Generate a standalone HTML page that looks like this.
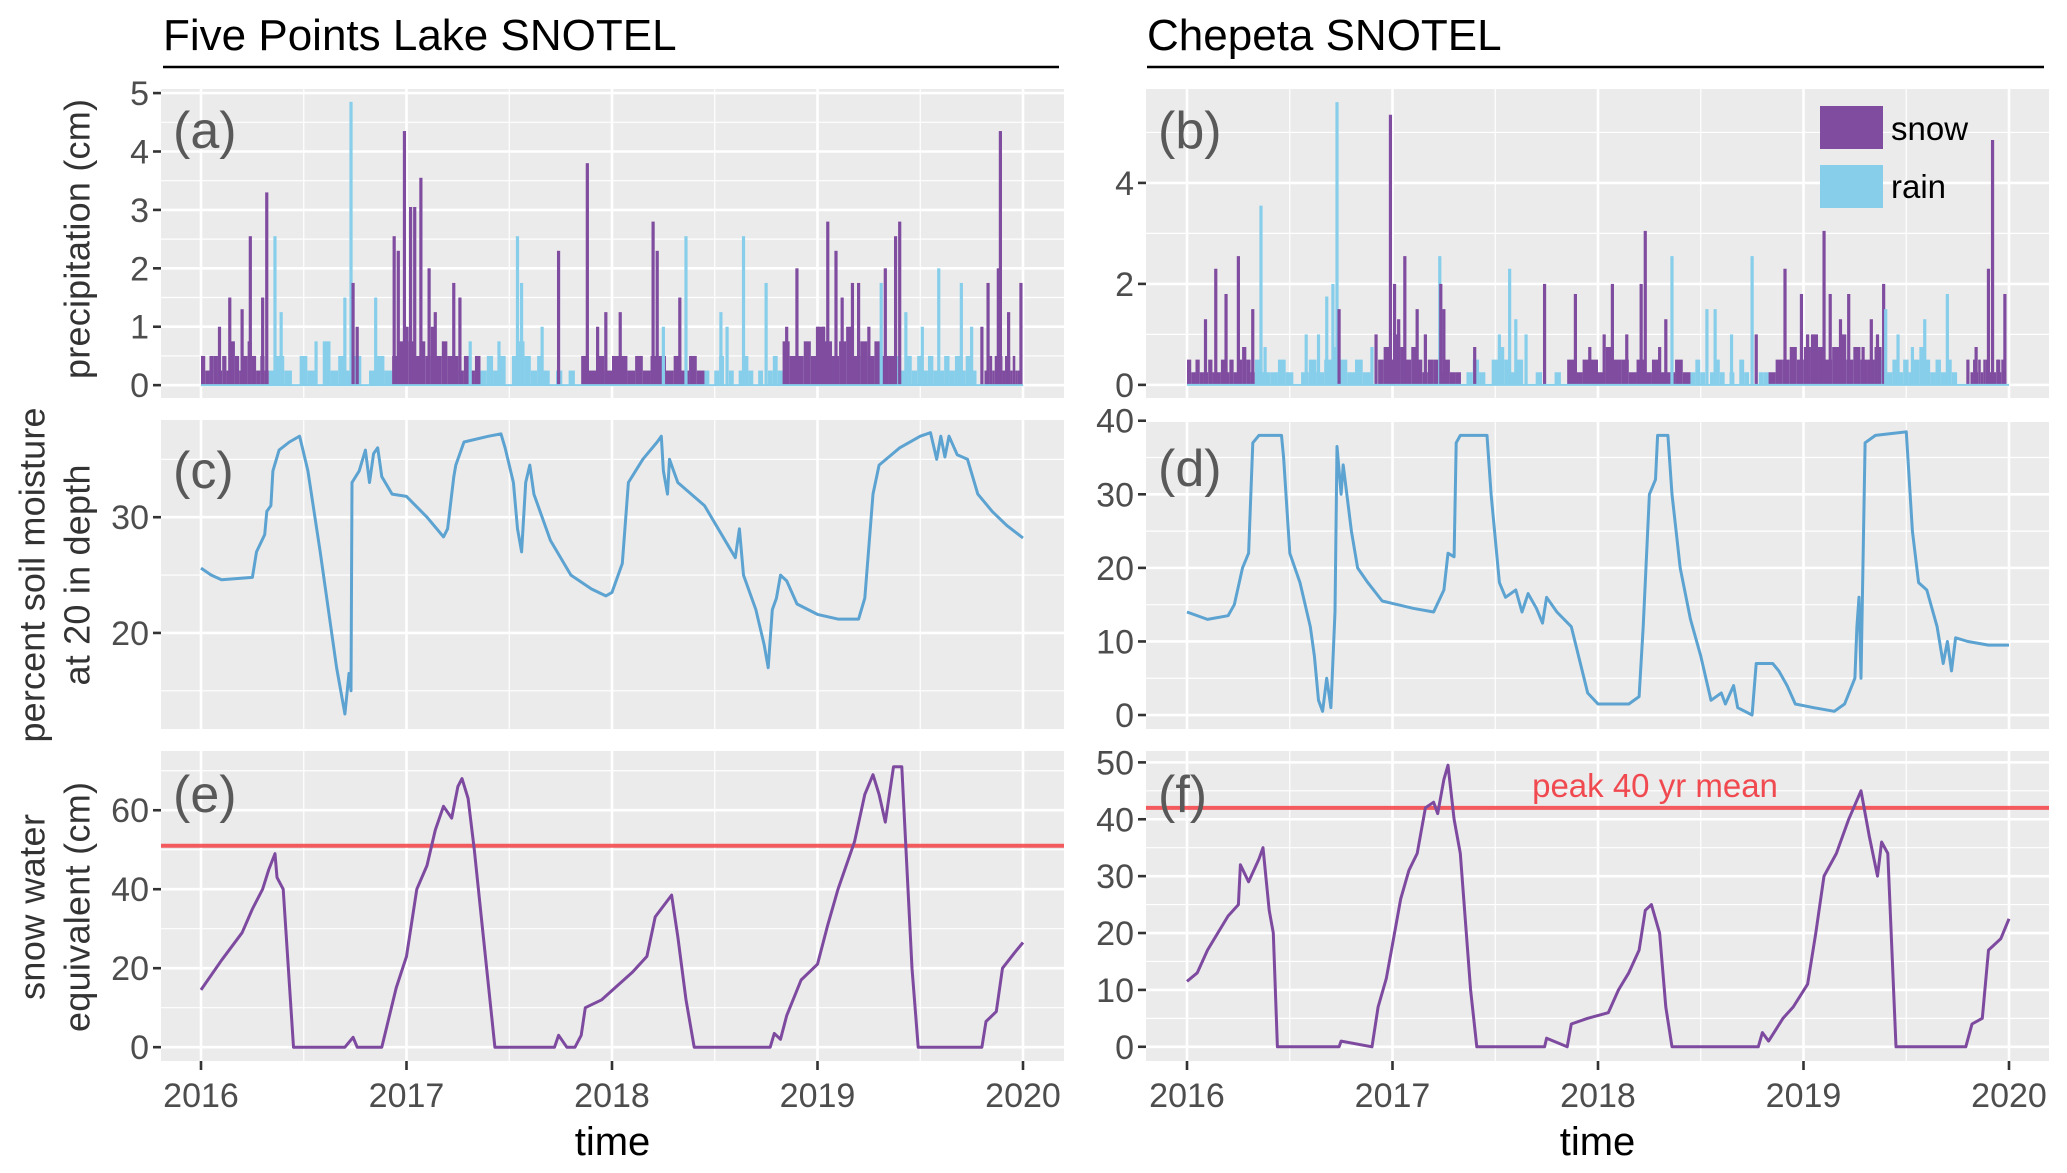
<!DOCTYPE html>
<html><head><meta charset="utf-8">
<style>
html,body{margin:0;padding:0;background:#fff;}
svg{display:block;font-family:"Liberation Sans",Arial,sans-serif;}
</style></head>
<body>
<svg id="chart" width="2067" height="1173" viewBox="0 0 2067 1173" xmlns="http://www.w3.org/2000/svg">
  <text x="163" y="50" font-size="44" fill="#000">Five Points Lake SNOTEL</text>
  <line x1="163" y1="67" x2="1059" y2="67" stroke="#000" stroke-width="2.5"/>
  <text x="1147" y="50" font-size="44" fill="#000">Chepeta SNOTEL</text>
  <line x1="1147" y1="67" x2="2044" y2="67" stroke="#000" stroke-width="2.5"/>
  <g id="root"></g>
</svg>
<script>
// ---------- DATA ----------
const years = [2016, 2017, 2018, 2019, 2020];
const yearLabels = ["2016", "2017", "2018", "2019", "2020"];
const fillStart = [2016.0, 2016.33, 2016.93, 2017.36, 2017.85, 2018.45, 2018.83, 2019.38, 2019.8];
const fillEnd   = [2016.33, 2016.93, 2017.36, 2017.85, 2018.45, 2018.83, 2019.38, 2019.8, 2020.0];
const fillKind  = ["s","r","s","r","s","r","s","r","s"];
const fillA = [
 [0.5,0.25,0.5,0.5,0.25,0.5,0.25,0.75,0.5,0.25,0.5,0.75,0.5,0.25,0.5,0.25],
 [0.25,0.5,0.25,0,0.5,0.25,0,0.75,0.25,0.5,0.25,0.5,0,0.25,0.5,0.25],
 [0.5,0.75,1.0,0.75,0.5,0.75,0.5,1.0,0.5,0.75,0.5,0.5,0.25,0.5,0.25,0.5],
 [0.25,0.5,0.25,0.5,0,0.5,0.75,0.5,0.25,0.5,0.25,0,0.25,0,0.25,0],
 [0.5,0.25,0.5,0.25,0.5,0.5,0.25,0.5,0.25,0.5,0.5,0.25,0.5,0.25,0.5,0.25],
 [0.25,0,0.25,0.5,0,0.25,0,0.25,0.5,0.25,0,0.25,0,0.25,0.5,0.25],
 [0.75,0.5,0.5,0.75,0.5,1.0,0.75,0.5,0.75,1.0,0.5,0.75,0.5,0.75,0.5,0.5],
 [0.5,0.25,0.5,0.25,0.5,0.25,0.5,0.25,0.25,0.5,0.25,0.5,0.25,0.5,0.25,0],
 [0,0.25,0,0.5,0.25,0.5,0.25,0.5,0.25,0.5,0.5,0.25,0.5,0.25,0.25,0]
];
const fillB = [
 [0.5,0.25,0.5,0.25,0.25,0.5,0.25,0.25,0.5,0.25,0.5,0.25,0.5,0.75,0.5,0.25],
 [0.5,0.25,0.25,0.5,0.25,0,0.25,0.5,0.25,0.5,0.75,0.5,0.25,0.5,0.25,0],
 [0.5,0.75,0.5,1.0,0.75,0.5,0.75,0.5,0.25,0.5,0.5,0.25,0.5,0.25,0.25,0],
 [0.25,0.5,0.25,0,0.5,0.75,0.5,0.25,0.5,0,0,0.25,0,0,0.25,0],
 [0.5,0.25,0.5,0.5,0.25,0.75,0.5,0.5,0.25,0.5,0.25,0.5,0.25,0.25,0.5,0.25],
 [0.25,0.5,0.25,0,0.25,0.5,0.25,0,0.25,0,0.5,0.25,0,0,0.25,0.25],
 [0.25,0.5,0.5,0.75,0.5,0.75,1.0,0.75,0.5,0.75,1.0,0.5,0.75,0.5,0.5,0.75],
 [0.5,0.25,0.5,0.25,0.5,0.25,0.5,0.75,0.5,0.25,0.5,0.25,0.5,0.25,0,0],
 [0,0.25,0.5,0.25,0.5,0.25,0.5,0.5,0.25,0.5,0.25,0.5,0.25,0.5,0.25,0]
];
const aT = [2016.09,2016.14,2016.20,2016.24,2016.30,2016.32,2016.36,2016.39,2016.56,2016.70,2016.73,2016.74,2016.76,2016.85,2016.94,2016.96,2016.99,2017.02,2017.04,2017.07,2017.11,2017.14,2017.23,2017.26,2017.31,2017.45,2017.54,2017.56,2017.66,2017.74,2017.88,2017.93,2017.97,2018.04,2018.20,2018.22,2018.25,2018.33,2018.36,2018.53,2018.56,2018.64,2018.75,2018.85,2018.90,2019.0,2019.03,2019.05,2019.09,2019.12,2019.17,2019.20,2019.25,2019.31,2019.33,2019.38,2019.40,2019.43,2019.51,2019.59,2019.70,2019.75,2019.80,2019.83,2019.88,2019.89,2019.93,2019.99];
const aV = [1.0,1.5,1.3,2.55,1.5,3.3,2.55,1.25,0.75,1.5,4.85,1.75,1.0,1.5,2.55,2.3,4.35,3.05,3.05,3.55,2.0,1.25,1.75,1.5,0.75,0.75,2.55,1.75,1.0,2.3,3.8,1.0,1.25,1.25,2.8,2.3,1.0,1.5,2.55,1.25,1.0,2.55,1.75,1.0,2.0,1.0,1.0,2.8,2.3,1.5,1.75,1.75,1.0,1.75,2.0,2.55,2.8,1.25,1.0,2.0,1.75,1.0,1.0,1.75,2.0,4.35,1.25,1.75];
const aK = ["s","s","s","s","s","s","r","r","r","r","r","s","s","r","s","s","s","s","s","s","s","s","s","s","r","r","r","r","r","s","s","s","s","s","s","s","r","s","r","r","r","r","r","s","s","s","s","s","s","s","s","s","s","r","s","s","s","r","r","r","r","r","s","s","s","s","s","s"];
const bT = [2016.09,2016.14,2016.19,2016.25,2016.32,2016.36,2016.38,2016.58,2016.64,2016.68,2016.71,2016.73,2016.74,2016.90,2016.92,2016.99,2017.01,2017.03,2017.06,2017.12,2017.16,2017.23,2017.235,2017.25,2017.40,2017.52,2017.57,2017.60,2017.65,2017.74,2017.89,2017.96,2018.03,2018.07,2018.14,2018.21,2018.23,2018.30,2018.33,2018.36,2018.53,2018.57,2018.65,2018.75,2018.77,2018.91,2018.99,2019.02,2019.10,2019.13,2019.18,2019.22,2019.29,2019.33,2019.36,2019.39,2019.40,2019.46,2019.53,2019.59,2019.70,2019.80,2019.84,2019.90,2019.92,2019.95,2019.98];
const bV = [1.3,2.3,1.8,2.55,1.5,3.55,0.75,1.0,1.0,1.75,2.0,5.6,1.5,0.75,1.0,5.35,2.0,1.3,2.55,1.5,1.0,2.55,2.0,1.5,0.75,1.0,2.3,1.3,1.0,2.0,1.8,0.75,1.0,2.0,1.0,2.0,3.05,0.75,1.3,2.55,1.5,1.5,1.0,2.55,1.0,2.3,1.8,1.0,3.05,1.8,1.3,1.8,0.75,1.3,1.0,2.0,1.5,1.0,0.75,1.3,1.8,0.5,0.75,2.3,4.85,0.5,1.8];
const bK = ["s","s","s","s","s","r","r","r","r","r","r","r","s","r","s","s","s","s","s","s","s","r","s","s","s","r","r","r","r","s","s","s","s","s","s","s","s","s","s","r","r","r","r","r","s","s","s","s","s","s","s","s","s","s","s","s","r","r","r","r","r","s","s","s","s","s","s"];
const cT = [2016.0,2016.05,2016.1,2016.25,2016.27,2016.31,2016.32,2016.34,2016.35,2016.38,2016.43,2016.48,2016.5,2016.52,2016.58,2016.62,2016.66,2016.70,2016.72,2016.73,2016.735,2016.77,2016.8,2016.82,2016.84,2016.86,2016.88,2016.93,2017.0,2017.1,2017.18,2017.2,2017.23,2017.24,2017.28,2017.4,2017.46,2017.48,2017.52,2017.54,2017.56,2017.58,2017.6,2017.62,2017.7,2017.8,2017.9,2017.97,2018.0,2018.05,2018.08,2018.15,2018.22,2018.24,2018.25,2018.27,2018.28,2018.3,2018.32,2018.45,2018.6,2018.62,2018.64,2018.7,2018.74,2018.76,2018.78,2018.8,2018.82,2018.85,2018.9,2019.0,2019.1,2019.2,2019.23,2019.27,2019.3,2019.4,2019.5,2019.55,2019.58,2019.6,2019.62,2019.64,2019.68,2019.73,2019.78,2019.85,2019.92,2020.0];
const cV = [25.6,25.0,24.6,24.8,27,28.5,30.5,31,34,35.8,36.5,37,35.5,34,27,22,17,13,16.5,15,33,34,35.8,33,35.5,36,33.5,32,31.8,30,28.3,29,33.5,34.5,36.5,37,37.2,36,33,29,27,33,34.5,32,28,25,23.8,23.2,23.5,26,33,35,36.5,37,34,32,35,34,33,31,26.5,29,25,22,19,17,22,23,25,24.5,22.5,21.6,21.2,21.2,23,32,34.5,36,37,37.3,35,37,35.2,37,35.4,35,32,30.5,29.3,28.2];
const dT = [2016.0,2016.1,2016.2,2016.23,2016.27,2016.3,2016.32,2016.35,2016.46,2016.47,2016.5,2016.55,2016.6,2016.62,2016.64,2016.66,2016.68,2016.7,2016.72,2016.73,2016.75,2016.76,2016.8,2016.83,2016.88,2016.95,2017.1,2017.2,2017.25,2017.27,2017.3,2017.31,2017.33,2017.46,2017.48,2017.52,2017.55,2017.6,2017.63,2017.66,2017.7,2017.73,2017.75,2017.8,2017.87,2017.95,2018.0,2018.15,2018.2,2018.22,2018.25,2018.28,2018.29,2018.34,2018.36,2018.4,2018.45,2018.5,2018.55,2018.6,2018.62,2018.66,2018.68,2018.75,2018.77,2018.85,2018.88,2018.92,2018.96,2019.05,2019.15,2019.2,2019.25,2019.26,2019.27,2019.28,2019.3,2019.35,2019.5,2019.53,2019.56,2019.6,2019.65,2019.68,2019.7,2019.72,2019.74,2019.8,2019.9,2020.0];
const dV = [14,13,13.5,15,20,22,37,38,38,35,22,18,12,8,2,0.5,5,1,14,36.5,30,34,25,20,18,15.5,14.5,14,17,22,21.5,37,38,38,30,18,16,17,14,16.5,14.5,12.5,16,14,12,3,1.5,1.5,2.5,12,30,32,38,38,30,20,13,8,2,3,1.5,4,1,0,7,7,6,4,1.5,1,0.5,1.5,5,12,16,5,37,38,38.5,25,18,17,12,7,10,6,10.5,10,9.5,9.5];
const eT = [2016.0,2016.1,2016.2,2016.25,2016.3,2016.33,2016.36,2016.37,2016.4,2016.45,2016.7,2016.74,2016.76,2016.88,2016.95,2017.0,2017.05,2017.1,2017.14,2017.18,2017.22,2017.25,2017.27,2017.3,2017.33,2017.37,2017.43,2017.72,2017.74,2017.78,2017.82,2017.85,2017.87,2017.95,2018.1,2018.17,2018.21,2018.29,2018.32,2018.36,2018.40,2018.77,2018.79,2018.82,2018.85,2018.92,2019.0,2019.05,2019.1,2019.18,2019.23,2019.27,2019.3,2019.33,2019.37,2019.41,2019.46,2019.49,2019.8,2019.82,2019.87,2019.9,2019.96,2020.0];
const eV = [14.5,22,29,35,40,45,49,43,40,0,0,2.5,0,0,15,23,40,46,55,61,58,66,68,63,50,30,0,0,3,0,0,3,10,12,19,23,33,38.5,28,12,0,0,3.5,2,8,17,21,31,40,52,64,69,64,57,71,71,20,0,0,6.5,9,20,24,26.5];
const fT = [2016.0,2016.05,2016.1,2016.15,2016.2,2016.25,2016.26,2016.3,2016.35,2016.37,2016.4,2016.42,2016.44,2016.74,2016.75,2016.9,2016.93,2016.97,2017.0,2017.04,2017.08,2017.12,2017.16,2017.2,2017.22,2017.25,2017.27,2017.3,2017.33,2017.38,2017.41,2017.74,2017.75,2017.85,2017.87,2017.95,2018.05,2018.1,2018.15,2018.2,2018.23,2018.26,2018.3,2018.33,2018.36,2018.78,2018.8,2018.83,2018.9,2018.95,2019.02,2019.06,2019.1,2019.16,2019.22,2019.28,2019.32,2019.36,2019.38,2019.41,2019.45,2019.79,2019.82,2019.87,2019.9,2019.96,2020.0];
const fV = [11.5,13,17,20,23,25,32,29,33,35,24,20,0,0,1,0,7,12,18,26,31,34,42,43,41,47,49.5,40,34,10,0,0,1.5,0,4,5,6,10,13,17,24,25,20,7,0,0,2.5,1,5,7,11,20,30,34,40,45,37,30,36,34,0,0,4,5,17,19,22.5];
const peakE = 51;
const peakF = 42;

// ---------- DRAW ----------
const NS = "http://www.w3.org/2000/svg";
const root = document.getElementById("root");
const SNOW = "#7F4CA0", RAIN = "#87CEEB", SOIL = "#5CA3D1", SWE = "#7D4AA0";
function mk(tag, attrs, parent) {
  const el = document.createElementNS(NS, tag);
  for (const k in attrs) el.setAttribute(k, attrs[k]);
  (parent || root).appendChild(el);
  return el;
}
const cols = [{x0:161, x1:1064, y2016:201}, {x0:1146, x1:2049, y2016:1187}];
const rows = [{y0:89, y1:398}, {y0:420, y1:729}, {y0:751, y1:1061}];
function xS(col) { return t => col.y2016 + (t - 2016) * 205.5; }

function panel(ci, ri, dom, majors, minors, labels, name) {
  const c = cols[ci], r = rows[ri];
  const g = mk("g", {});
  
  
  const y = v => r.y1 - (v - dom[0]) / (dom[1] - dom[0]) * (r.y1 - r.y0);
  const x = xS(c);
  const bg = mk("rect", {x:c.x0, y:r.y0, width:c.x1-c.x0, height:r.y1-r.y0, fill:"#EBEBEB"}, g);
  
  
  minors.forEach(v => mk("line", {x1:c.x0, x2:c.x1, y1:y(v), y2:y(v), stroke:"#fff", "stroke-width":1.2}, g));
  [2016.5, 2017.5, 2018.5, 2019.5].forEach(t => mk("line", {x1:x(t), x2:x(t), y1:r.y0, y2:r.y1, stroke:"#fff", "stroke-width":1.2}, g));
  majors.forEach(v => mk("line", {x1:c.x0, x2:c.x1, y1:y(v), y2:y(v), stroke:"#fff", "stroke-width":2.6}, g));
  years.forEach(t => mk("line", {x1:x(t), x2:x(t), y1:r.y0, y2:r.y1, stroke:"#fff", "stroke-width":2.6}, g));
  majors.forEach((v, i) => {
    mk("line", {x1:c.x0-8, x2:c.x0, y1:y(v), y2:y(v), stroke:"#333", "stroke-width":2.6}, g);
    const tl = mk("text", {x:c.x0-12, y:y(v)+12, "font-size":34, fill:"#4D4D4D", "text-anchor":"end"}, g);
    tl.textContent = labels[i];
    
    
  });
  return {g, x, y, c, r};
}
function letter(p, txt, baseline) {
  const t = mk("text", {x:p.c.x0+12, y:baseline, "font-size":52, fill:"#595959"}, p.g);
  t.textContent = txt;
  
  
}
function precip(p, fills, T, V, K) {
  const y0 = p.y(0);
  fillStart.forEach((s, i) => {
    const vals = fills[i];
    const step = (fillEnd[i] - s) / vals.length;
    vals.forEach((v, j) => {
      if (v <= 0) return;
      const xa = p.x(s + j * step), xb = p.x(s + (j + 1) * step);
      const b = mk("rect", {x:xa, y:p.y(v), width:Math.max(1, xb - xa), height:y0 - p.y(v), fill: fillKind[i] === "s" ? SNOW : RAIN}, p.g);
      
      
    });
  });
  T.forEach((t, i) => {
    const b = mk("rect", {x:p.x(t) - 1.6, y:p.y(V[i]), width:3.2, height:y0 - p.y(V[i]), fill: K[i] === "s" ? SNOW : RAIN}, p.g);
    
    
  });
  const base = mk("line", {x1:p.x(2016), x2:p.x(2020), y1:y0, y2:y0, stroke:RAIN, "stroke-width":2}, p.g);
  
  
}
function line(p, T, V, color, name) {
  const d = T.map((t, i) => (i ? "L" : "M") + p.x(t).toFixed(1) + "," + p.y(V[i]).toFixed(1)).join("");
  const pl = mk("path", {d, fill:"none", stroke:color, "stroke-width":3, "stroke-linejoin":"round"}, p.g);
  
  
}
function hline(p, v, name) {
  const l = mk("line", {x1:p.c.x0, x2:p.c.x1, y1:p.y(v), y2:p.y(v), stroke:"#F34A4F", "stroke-width":4, "stroke-opacity":0.9}, p.g);
  
  
}
function xaxis(p) {
  years.forEach((t, i) => {
    mk("line", {x1:p.x(t), x2:p.x(t), y1:p.r.y1, y2:p.r.y1+9, stroke:"#333", "stroke-width":2.6}, p.g);
    const tl = mk("text", {x:p.x(t), y:1107, "font-size":34, fill:"#4D4D4D", "text-anchor":"middle"}, p.g);
    tl.textContent = yearLabels[i];
    
    
  });
  const tt = mk("text", {x:(p.c.x0+p.c.x1)/2, y:1155, "font-size":40, fill:"#000", "text-anchor":"middle"}, p.g);
  tt.textContent = "time";
  
  
}

const pa = panel(0, 0, [-0.22, 5.07], [0,1,2,3,4,5], [0.5,1.5,2.5,3.5,4.5], ["0","1","2","3","4","5"], "panel-a-precip");
precip(pa, fillA, aT, aV, aK); letter(pa, "(a)", 148);
const pb = panel(1, 0, [-0.26, 5.86], [0,2,4], [1,3,5], ["0","2","4"], "panel-b-precip");
precip(pb, fillB, bT, bV, bK); letter(pb, "(b)", 148);
const pc = panel(0, 1, [11.7, 38.4], [20,30], [15,25,35], ["20","30"], "panel-c-soil");
line(pc, cT, cV, SOIL, "soil-moisture-line"); letter(pc, "(c)", 488);
const pd = panel(1, 1, [-1.9, 40.1], [0,10,20,30,40], [5,15,25,35], ["0","10","20","30","40"], "panel-d-soil");
line(pd, dT, dV, SOIL, "soil-moisture-line"); letter(pd, "(d)", 486);
const pe = panel(0, 2, [-3.5, 75], [0,20,40,60], [10,30,50,70], ["0","20","40","60"], "panel-e-swe");
hline(pe, peakE, "peak-mean-line"); line(pe, eT, eV, SWE, "swe-line"); letter(pe, "(e)", 812); xaxis(pe);
const pf = panel(1, 2, [-2.5, 52], [0,10,20,30,40,50], [5,15,25,35,45], ["0","10","20","30","40","50"], "panel-f-swe");
hline(pf, peakF, "peak-mean-line"); line(pf, fT, fV, SWE, "swe-line"); letter(pf, "(f)", 812); xaxis(pf);
const pk = mk("text", {x:1655, y:797, "font-size":33, fill:"#F04A50", "text-anchor":"middle"}, pf.g);
pk.textContent = "peak 40 yr mean";



const lg = mk("g", {});


const ls = mk("rect", {x:1820, y:106, width:63, height:43, fill:SNOW}, lg);


const lr = mk("rect", {x:1820, y:165, width:63, height:43, fill:RAIN}, lg);


const lt1 = mk("text", {x:1891, y:140, "font-size":33, fill:"#000"}, lg);
lt1.textContent = "snow";


const lt2 = mk("text", {x:1891, y:198, "font-size":33, fill:"#000"}, lg);
lt2.textContent = "rain";



function ytitle(txt, cx, cy, len, name) {
  const t = mk("text", {x:0, y:0, "font-size":36, fill:"#333", "text-anchor":"middle", "dominant-baseline":"central", transform:`translate(${cx},${cy}) rotate(-90)`, textLength:len});
  t.textContent = txt;
  
  
}
ytitle("precipitation (cm)", 77, 239, 280, "y-axis-title-precip");
ytitle("percent soil moisture", 32, 575, 335, "y-axis-title-soil-1");
ytitle("at 20 in depth", 77, 575, 221, "y-axis-title-soil-2");
ytitle("snow water", 32, 907, 186, "y-axis-title-swe-1");
ytitle("equivalent (cm)", 77, 907, 250, "y-axis-title-swe-2");
</script>
</body></html>
